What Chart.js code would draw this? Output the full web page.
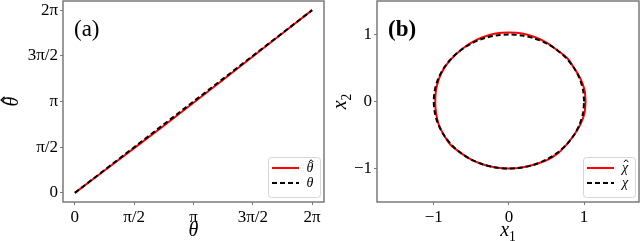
<!DOCTYPE html>
<html>
<head>
<meta charset="UTF-8">
<script src="https://cdn.jsdelivr.net/npm/chart.js"></script>
<style>
  body { margin: 0; background: #fff; width: 640px; height: 241px; position: relative; overflow: hidden; }
  canvas { position: absolute; top: 0; }
  #ca { left: 0; }
  #cb { left: 326px; }
</style>
</head>
<body>
<canvas id="ca" width="326" height="241"></canvas>
<canvas id="cb" width="314" height="241"></canvas>
<script>
// panel (a): estimated angle vs true angle
const thetaX     = [0, 0.785, 1.571, 2.356, 3.142, 3.927, 4.712, 5.498, 6.283];
const thetaHatY  = [0, 0.77, 1.54, 2.31, 3.10, 3.89, 4.69, 5.49, 6.283];
const thetaLineX = [0, 6.283];
const thetaLineY = [0, 6.283];
const piTicks    = [0, 1.5708, 3.1416, 4.7124, 6.2832];
const piLabels   = ['0', 'π/2', 'π', '3π/2', '2π'];

// panel (b): estimated curve vs unit circle (10 degree steps)
const chiX = [1, 0.985, 0.940, 0.866, 0.766, 0.643, 0.500, 0.342, 0.174, 0, -0.174, -0.342, -0.500, -0.643, -0.766, -0.866, -0.940, -0.985,
              -1, -0.985, -0.940, -0.866, -0.766, -0.643, -0.500, -0.342, -0.174, 0, 0.174, 0.342, 0.500, 0.643, 0.766, 0.866, 0.940, 0.985, 1];
const chiY = [0, 0.174, 0.342, 0.500, 0.643, 0.766, 0.866, 0.940, 0.985, 1, 0.985, 0.940, 0.866, 0.766, 0.643, 0.500, 0.342, 0.174,
              0, -0.174, -0.342, -0.500, -0.643, -0.766, -0.866, -0.940, -0.985, -1, -0.985, -0.940, -0.866, -0.766, -0.643, -0.500, -0.342, -0.174, 0];
const chiHatX = [1.02, 1.005, 0.949, 0.866, 0.774, 0.643, 0.505, 0.349, 0.179, 0, -0.179, -0.349, -0.505, -0.643, -0.762, -0.862, -0.931, -0.970,
                 -0.98, -0.970, -0.935, -0.866, -0.774, -0.643, -0.500, -0.342, -0.174, 0, 0.174, 0.342, 0.505, 0.649, 0.766, 0.866, 0.949, 1.005, 1.02];
const chiHatY = [0, 0.177, 0.345, 0.500, 0.649, 0.766, 0.875, 0.959, 1.015, 1.03, 1.015, 0.959, 0.875, 0.766, 0.640, 0.498, 0.339, 0.171,
                 0, -0.171, -0.340, -0.500, -0.649, -0.766, -0.866, -0.940, -0.985, -1.0, -0.985, -0.940, -0.875, -0.774, -0.643, -0.500, -0.345, -0.177, 0];
const unitTicks  = [-1, 0, 1];
const unitLabels = ['−1', '0', '1'];

const pts = (xs, ys) => xs.map((x, i) => ({ x: x, y: ys[i] }));
const SERIF = '"Liberation Serif", "DejaVu Serif", serif';
const FRAME = '#7a7a7a';

// italic symbol with optional hat and optional subscript, centred at (0,0) baseline-middle
function drawSym(ctx, text, size) {
  let hat = false, sub = '';
  if (text.endsWith('\u0302')) { hat = true; text = text.slice(0, -1); }
  const m = text.match(/^(.)([0-9])$/);
  if (m) { text = m[1]; sub = m[2]; }
  ctx.font = 'italic ' + size + 'px ' + SERIF;
  const w = ctx.measureText(text).width;
  ctx.font = (size * 0.68) + 'px ' + SERIF;
  const ws = sub ? ctx.measureText(sub).width : 0;
  const x0 = -(w + ws) / 2;
  ctx.font = 'italic ' + size + 'px ' + SERIF;
  ctx.textBaseline = 'middle';
  ctx.textAlign = 'left';
  ctx.fillText(text, x0, 0);
  if (sub) {
    ctx.font = (size * 0.68) + 'px ' + SERIF;
    ctx.fillText(sub, x0 + w, size * 0.3);
  }
  if (hat) {
    const cx = x0 + w / 2 + size * 0.08, top = -size * 0.42;
    ctx.save();
    ctx.strokeStyle = '#000';
    ctx.lineWidth = Math.max(1, size / 14);
    ctx.beginPath();
    ctx.moveTo(cx - size * 0.16, top);
    ctx.lineTo(cx, top - size * 0.17);
    ctx.lineTo(cx + size * 0.16, top);
    ctx.stroke();
    ctx.restore();
  }
  return w + ws;
}

// frame, panel letter, axis titles and legend box
function panelPlugin(letter, bold, xTitle, yTitle, yTitleX) {
  return {
    id: 'panel',
    afterDraw(chart) {
      const ctx = chart.ctx, a = chart.chartArea;
      ctx.save();
      ctx.strokeStyle = FRAME;
      ctx.lineWidth = 1.5;
      ctx.strokeRect(a.left, a.top, a.right - a.left, a.bottom - a.top);

      ctx.fillStyle = '#000';
      ctx.font = (bold ? 'bold ' : '') + '23px ' + SERIF;
      ctx.textBaseline = 'alphabetic';
      ctx.fillText(letter, a.left + 11, a.top + 35);

      // axis titles
      ctx.save();
      ctx.translate((a.left + a.right) / 2, 231);
      drawSym(ctx, xTitle, 20);
      ctx.restore();
      ctx.save();
      ctx.translate(yTitleX, (a.top + a.bottom) / 2);
      ctx.rotate(-Math.PI / 2);
      drawSym(ctx, yTitle, 20);
      ctx.restore();

      // legend
      const w = 52, h = 40;
      const bx = a.right - 4 - w, by = a.bottom - 5 - h;
      ctx.fillStyle = 'rgba(255,255,255,0.85)';
      ctx.strokeStyle = '#d6d6d6';
      ctx.lineWidth = 1;
      ctx.beginPath();
      ctx.roundRect(bx + 0.5, by + 0.5, w, h, 3);
      ctx.fill();
      ctx.stroke();
      chart.data.datasets.forEach((ds, i) => {
        const yy = by + 11 + i * 15;
        ctx.strokeStyle = ds.borderColor;
        ctx.lineWidth = 2;
        ctx.setLineDash(ds.borderDash || []);
        ctx.beginPath();
        ctx.moveTo(bx + 4, yy);
        ctx.lineTo(bx + 31, yy);
        ctx.stroke();
        ctx.setLineDash([]);
        ctx.fillStyle = '#000';
        ctx.save();
        ctx.translate(bx + 42, yy);
        drawSym(ctx, ds.label, 14);
        ctx.restore();
      });
      ctx.restore();
    }
  };
}

function axis(min, max, ticks, labels, size) {
  return {
    type: 'linear',
    min: min, max: max,
    afterBuildTicks: s => { s.ticks = ticks.map(v => ({ value: v })); },
    afterFit: s => {
      if (s.isHorizontal()) s.height = size; else s.width = size;
      s.paddingTop = 0; s.paddingBottom = 0; s.paddingLeft = 0; s.paddingRight = 0;
    },
    ticks: {
      color: '#000',
      font: { family: SERIF, size: 17 },
      padding: 2,
      callback: (v, i) => labels[i]
    },
    grid: { display: true, drawOnChartArea: false, drawTicks: true, tickLength: 3, tickColor: FRAME },
    border: { display: false }
  };
}

const common = {
  responsive: false,
  animation: false,
  events: [],
  plugins: { legend: { display: false }, tooltip: { enabled: false } },
  elements: { point: { radius: 0 } }
};

new Chart(document.getElementById('ca'), {
  type: 'scatter',
  data: {
    datasets: [
      { label: 'θ̂', data: pts(thetaX, thetaHatY), showLine: true, borderColor: '#ff0000', borderWidth: 2, order: 1 },
      { label: 'θ', data: pts(thetaLineX, thetaLineY), showLine: true, borderColor: '#000', borderWidth: 2, borderDash: [5, 3], order: 0 }
    ]
  },
  options: Object.assign({}, common, {
    layout: { padding: { top: 1, right: 2, left: 0, bottom: 0 } },
    scales: {
      x: axis(-0.314, 6.597, piTicks, piLabels, 39),
      y: axis(-0.314, 6.597, piTicks, piLabels, 63)
    }
  }),
  plugins: [panelPlugin('(a)', false, 'θ', 'θ̂', 13)]
});

new Chart(document.getElementById('cb'), {
  type: 'scatter',
  data: {
    datasets: [
      { label: 'χ̂', data: pts(chiHatX, chiHatY), showLine: true, tension: 0.3, borderColor: '#ff0000', borderWidth: 2, order: 1 },
      { label: 'χ', data: pts(chiX, chiY), showLine: true, tension: 0.3, borderColor: '#000', borderWidth: 2, borderDash: [5, 3], order: 0 }
    ]
  },
  options: Object.assign({}, common, {
    layout: { padding: { top: 1, right: 1, left: 0, bottom: 0 } },
    scales: {
      x: axis(-1.755, 1.73, unitTicks, unitLabels, 39),
      y: axis(-1.5, 1.5, unitTicks, unitLabels, 51)
    }
  }),
  plugins: [panelPlugin('(b)', true, 'x1', 'x2', 15)]
});
</script>
</body>
</html>
